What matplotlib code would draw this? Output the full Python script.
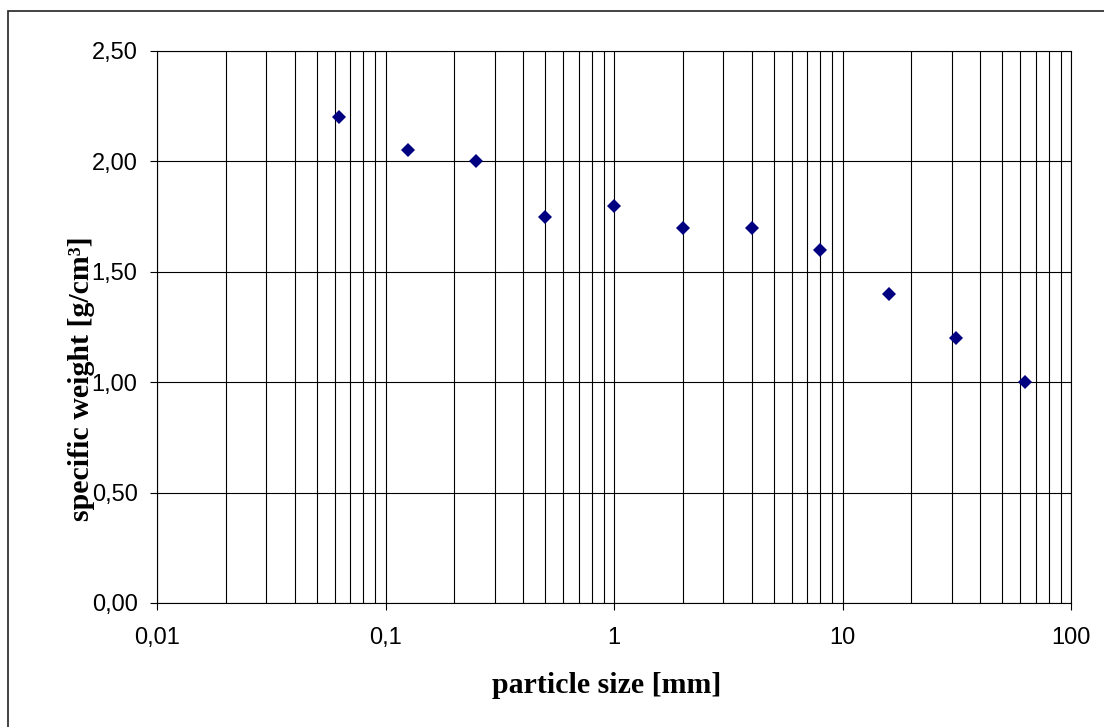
import matplotlib
matplotlib.use("Agg")
import matplotlib.pyplot as plt
from matplotlib.patches import Rectangle
from matplotlib.ticker import FixedLocator, LogLocator, NullFormatter

# particle size classes [mm] and their specific weight [g/cm3]
size_mm = [0.0625, 0.125, 0.25, 0.5, 1, 2, 4, 8, 16, 31.5, 63]
spec_weight = [2.20, 2.05, 2.00, 1.75, 1.80, 1.70, 1.70, 1.60, 1.40, 1.20, 1.00]

x_ticks = [0.01, 0.1, 1, 10, 100]
x_tick_labels = ["0,01", "0,1", "1", "10", "100"]
y_ticks = [0.0, 0.5, 1.0, 1.5, 2.0, 2.5]
y_tick_labels = ["0,00", "0,50", "1,00", "1,50", "2,00", "2,50"]

fig = plt.figure(figsize=(11.04, 7.27), dpi=100)
ax = fig.add_axes([157 / 1104, 1 - 603 / 727, (1071 - 157) / 1104, (603 - 51) / 727])

ax.plot(size_mm, spec_weight, linestyle="none", marker="D", markersize=7.5,
        color="#000080", markeredgewidth=0, zorder=3)

ax.set_xscale("log")
ax.set_xlim(0.01, 100)
ax.set_ylim(0, 2.5)

ax.xaxis.set_major_locator(FixedLocator(x_ticks))
ax.set_xticklabels(x_tick_labels)
ax.xaxis.set_minor_locator(LogLocator(base=10, subs=range(2, 10)))
ax.xaxis.set_minor_formatter(NullFormatter())
ax.set_yticks(y_ticks)
ax.set_yticklabels(y_tick_labels)

ax.grid(True, which="major", axis="both", color="black", linewidth=0.8)
ax.grid(True, which="minor", axis="x", color="black", linewidth=0.8)
ax.set_axisbelow(True)

ax.tick_params(axis="both", which="major", direction="out", length=5, width=0.8,
               labelsize=17, colors="black")
ax.tick_params(axis="y", which="major", pad=9)
ax.tick_params(axis="x", which="major", pad=12)
ax.tick_params(axis="x", which="minor", length=0)
for lab in ax.get_xticklabels() + ax.get_yticklabels():
    lab.set_fontfamily("Liberation Sans")

for sp in ax.spines.values():
    sp.set_color("black")
    sp.set_linewidth(0.8)

ax.set_xlabel("particle size [mm]", fontfamily="Liberation Serif", fontweight="bold",
              fontsize=21.5)
ax.xaxis.set_label_coords((607 - 157) / 914, (603 - 672) / 552)
ax.set_ylabel("specific weight [g/cm³]", fontfamily="Liberation Serif", fontweight="bold",
              fontsize=21.5)
ax.yaxis.set_label_coords((95 - 157) / 914, (603 - 379) / 552)

# outer chart border
fig.patches.append(Rectangle((8 / 1104, -0.01), 1.1, 1 - 11 / 727 + 0.01,
                             transform=fig.transFigure, fill=False,
                             edgecolor="#222222", linewidth=1.2))

fig.savefig("out.png", dpi=100)
